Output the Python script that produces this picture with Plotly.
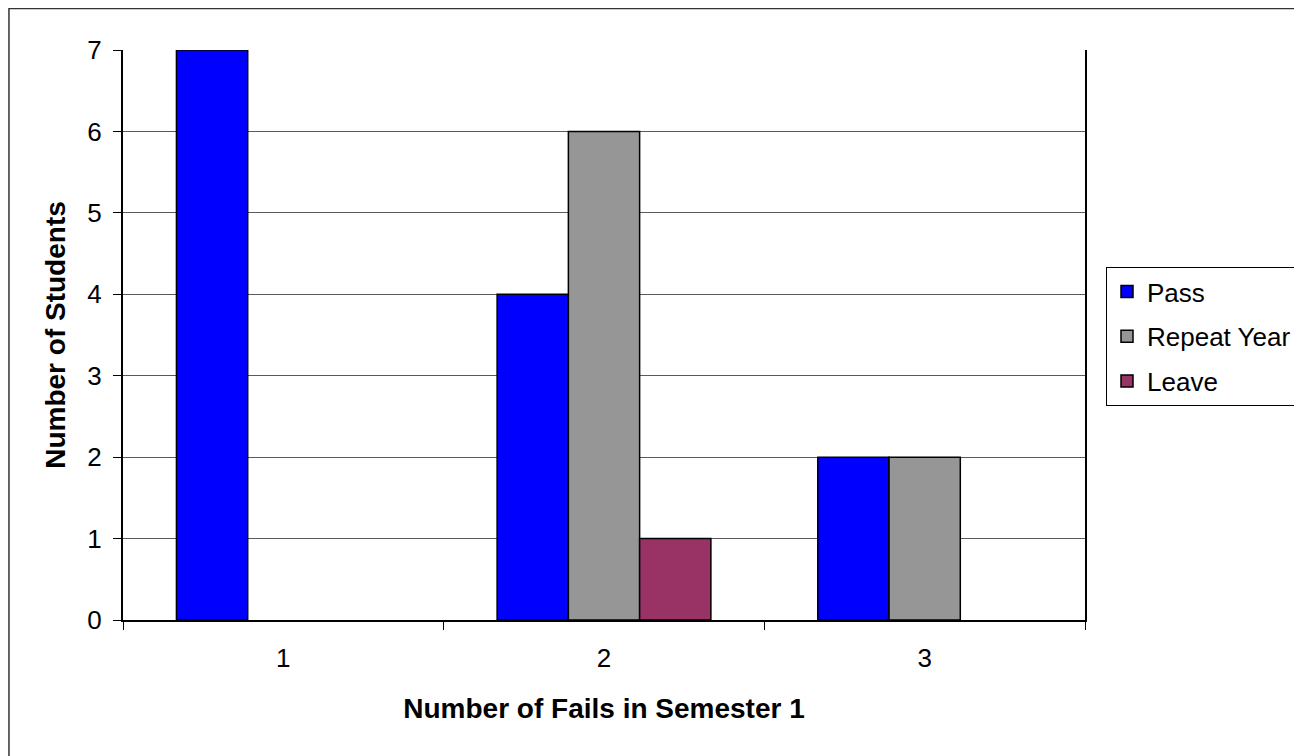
import plotly.graph_objects as go

categories = ["1", "2", "3"]
pass_vals = [7, 4, 2]
repeat_vals = [0, 6, 2]
leave_vals = [0, 1, 0]
y_ticks = [0, 1, 2, 3, 4, 5, 6, 7]

OFF = 8  # page body margin
W, H = 1302 - OFF, 756 - OFF
L, R, T, B = 123 - OFF, 1085 - OFF, 50 - OFF, 620 - OFF

fig = go.Figure()
for name, vals, col in [("Pass", pass_vals, "#0000FF"),
                        ("Repeat Year", repeat_vals, "#969696"),
                        ("Leave", leave_vals, "#993366")]:
    fig.add_trace(go.Bar(x=categories, y=[v if v > 0 else None for v in vals],
                         name=name, legendgroup=name,
                         marker=dict(color=col, line=dict(color="black", width=1.5))))

font = "Liberation Sans, Arial, sans-serif"
fig.update_layout(
    width=W, height=H,
    margin=dict(l=L, r=W - R, t=T, b=H - B, autoexpand=False),
    paper_bgcolor="white", plot_bgcolor="white",
    barmode="group", bargap=1.5 / 4.5, bargroupgap=0,
    font=dict(family=font, size=26, color="black"),
    showlegend=True,
    legend=dict(x=(1106 - 123) / (1085 - 123), y=(620 - 267) / (620 - 50), xanchor="left", yanchor="top",
                bordercolor="black", borderwidth=1, font=dict(size=26, family=font),
                traceorder="grouped", tracegroupgap=8),
    xaxis=dict(type="category", tickson="boundaries", ticks="outside", ticklen=8,
               tickcolor="black", showline=True, linecolor="black", linewidth=2,
               mirror=False, showgrid=False, tickfont=dict(size=26),
               ticklabelstandoff=14,
               title=dict(text="<b>Number of Fails in Semester 1</b>", font=dict(size=28), standoff=26)),
    yaxis=dict(range=[0, 7], tickvals=y_ticks, ticks="outside", ticklen=8, tickcolor="black",
               showline=True, linecolor="black", linewidth=2, mirror=True,
               showgrid=True, gridcolor="#5a5a5a", gridwidth=1, zeroline=False,
               tickfont=dict(size=26), ticklabelstandoff=6,
               title=dict(text="<b>Number of Students</b>", font=dict(size=28), standoff=14)),
    shapes=[dict(type="rect", xref="paper", yref="paper",
                 x0=-L / (R - L) + 0.001, x1=1.5, y0=-0.5, y1=1 + T / (B - T) - 0.001,
                 line=dict(color="#333333", width=1.5), layer="below")],
)
fig.write_html("out.html")
